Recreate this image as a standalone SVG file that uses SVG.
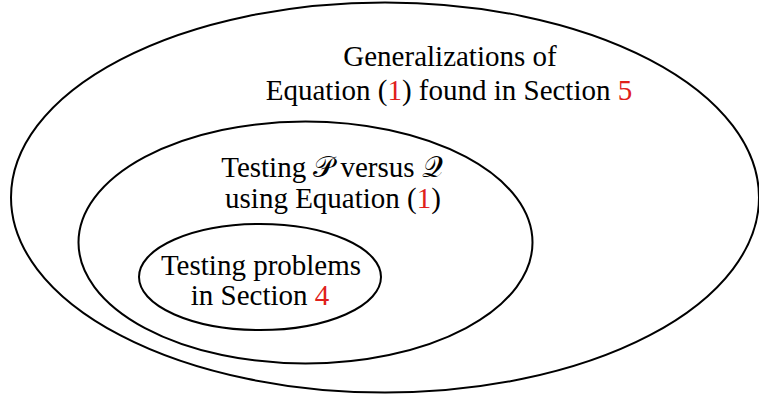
<svg xmlns="http://www.w3.org/2000/svg" width="759" height="395" viewBox="0 0 759 395">
<style>
.e{fill:none;stroke:#000;stroke-width:2}
text{font-family:"Liberation Serif","DejaVu Serif",serif;font-size:29px;fill:#000;text-anchor:middle}
.r{fill:#e0201b}
</style>
<rect width="759" height="395" fill="#fff"/>
<g id="outer">
<ellipse class="e" cx="385" cy="197.5" rx="374" ry="195"/>
<text x="450" y="66">Generalizations of</text>
<text x="449" y="100">Equation (<tspan class="r">1</tspan>) found in Section <tspan class="r">5</tspan></text>
</g>
<g id="middle">
<ellipse class="e" cx="305.5" cy="242.5" rx="227" ry="121"/>
<text x="332" y="177">Testing 𝒫<tspan dx="6">versus 𝒬</tspan></text>
<text x="333" y="208">using Equation (<tspan class="r">1</tspan>)</text>
</g>
<g id="inner">
<ellipse class="e" cx="260" cy="277" rx="121" ry="53"/>
<text x="261" y="275">Testing problems</text>
<text x="260" y="305">in Section <tspan class="r">4</tspan></text>
</g>
<g id="connectors"/>
</svg>
